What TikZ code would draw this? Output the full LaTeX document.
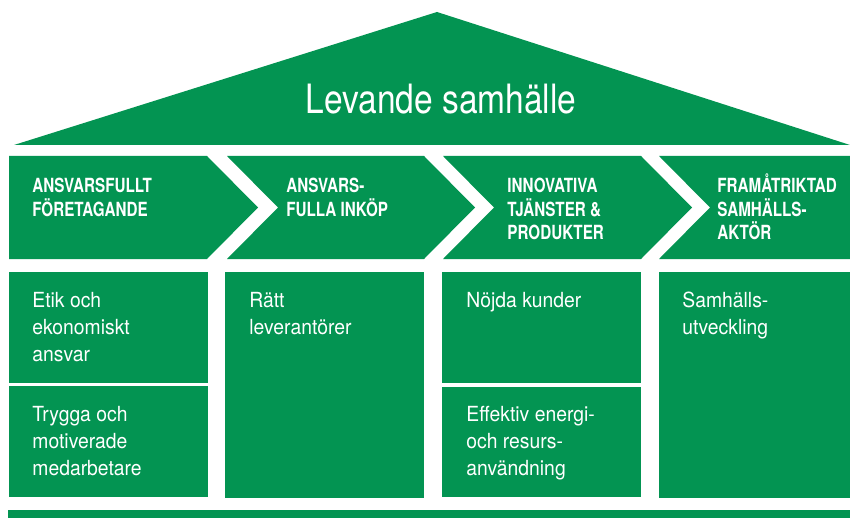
\documentclass[tikz,border=0pt]{standalone}
\usepackage{fontspec}
\setmainfont{TeX Gyre Heros}
\newfontfamily\rooffont{TeX Gyre Heros}[FakeStretch=0.83]
\newfontfamily\boxfont{TeX Gyre Heros}[FakeStretch=0.93]
\newfontfamily\chevfont{TeX Gyre Heros}[FakeStretch=0.78]
\definecolor{hgreen}{RGB}{3,148,82}
\newcommand\mystack[1]{\vtop{#1}}
\newcommand\rowtxt[1]{\hbox{#1}}
\begin{document}
\begin{tikzpicture}[x=0.5pt,y=-0.5pt,
  shp/.style={fill=hgreen},
  rooftxt/.style={font=\rooffont\fontsize{20.2}{24}\selectfont, text=white, inner sep=0, anchor=base},
  chevtxt/.style={font=\chevfont\bfseries\fontsize{9.75}{12}\selectfont, text=white, inner sep=0, anchor=base west},
  boxtxt/.style={font=\boxfont\fontsize{10.4}{13.5}\selectfont, text=white, inner sep=0, anchor=base west}]
\useasboundingbox (0,0) rectangle (850,518);
\fill[white] (0,0) rectangle (850,518);
% roof
\fill[shp] (14,145) -- (437,12) -- (850,145) -- cycle;
% chevrons
\fill[shp] (9,156) -- (207,156) -- (258,207.5) -- (207,259) -- (9,259) -- cycle;
\fill[shp] (227,156) -- (424,156) -- (475,207.5) -- (424,259) -- (227,259) -- (278,207.5) -- cycle;
\fill[shp] (443,156) -- (641,156) -- (692,207.5) -- (641,259) -- (443,259) -- (494,207.5) -- cycle;
\fill[shp] (659,156) -- (850,156) -- (850,259) -- (659,259) -- (710,207.5) -- cycle;
% boxes
\fill[shp] (9,272) rectangle (208,383);
\fill[shp] (9,386) rectangle (208,497);
\fill[shp] (225,272) rectangle (424,498);
\fill[shp] (442,272) rectangle (641,383);
\fill[shp] (442,387) rectangle (641,497);
\fill[shp] (659,272) rectangle (850,498);
% bottom bar
\fill[shp] (8,510) rectangle (850,518);
% texts
\node[rooftxt] (roof) at (441,114) {Levande samhälle};
\node[chevtxt] (c1) at (32,192) {\mystack{\rowtxt{ANSVARSFULLT}\rowtxt{FÖRETAGANDE}}};
\node[chevtxt] (c2) at (286,192) {\mystack{\rowtxt{ANSVARS-}\rowtxt{FULLA INKÖP}}};
\node[chevtxt] (c3) at (507,192) {\mystack{\rowtxt{INNOVATIVA}\rowtxt{TJÄNSTER \&}\rowtxt{PRODUKTER}}};
\node[chevtxt] (c4) at (717,192) {\mystack{\rowtxt{FRAMÅTRIKTAD}\rowtxt{SAMHÄLLS-}\rowtxt{AKTÖR}}};
\node[boxtxt] (b1a) at (32,307) {\mystack{\rowtxt{Etik och}\rowtxt{ekonomiskt}\rowtxt{ansvar}}};
\node[boxtxt] (b1b) at (32,421) {\mystack{\rowtxt{Trygga och}\rowtxt{motiverade}\rowtxt{medarbetare}}};
\node[boxtxt] (b2) at (249,307) {\mystack{\rowtxt{Rätt}\rowtxt{leverantörer}}};
\node[boxtxt] (b3a) at (466,307) {Nöjda kunder};
\node[boxtxt] (b3b) at (466,421) {\mystack{\rowtxt{Effektiv energi-}\rowtxt{och resurs-}\rowtxt{användning}}};
\node[boxtxt] (b4) at (682,307) {\mystack{\rowtxt{Samhälls-}\rowtxt{utveckling}}};
\end{tikzpicture}
\end{document}
